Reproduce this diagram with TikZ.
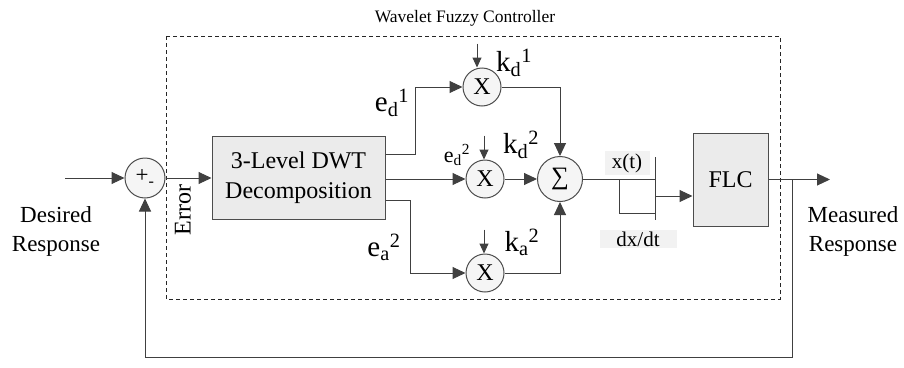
\documentclass[tikz,border=0pt]{standalone}
\usepackage{fontspec}
\setmainfont{Liberation Serif}
\usetikzlibrary{arrows.meta,positioning,calc}

\tikzset{
  wire/.style={draw=black!75, line width=1pt},
  arr/.style={wire, -{Triangle[length=13pt,width=12pt]}},
  karr/.style={wire, -{Triangle[length=10pt,width=9pt]}},
  blockbox/.style={draw=black!70, fill=black!8, line width=1pt, align=center, font=\fontsize{24}{30}\selectfont},
  mulnode/.style={circle, draw=black!70, fill=black!4, line width=1pt, minimum size=38pt, inner sep=0pt, font=\fontsize{24}{24}\selectfont},
  biglabel/.style={inner sep=0pt, font=\fontsize{29}{29}\selectfont},
  midlabel/.style={inner sep=0pt, font=\fontsize{22}{22}\selectfont},
  tag/.style={fill=black!5, inner sep=2pt, font=\fontsize{21}{21}\selectfont},
  sidetext/.style={align=center, font=\fontsize{23}{29}\selectfont}
}

\begin{document}
\begin{tikzpicture}[x=1pt, y=-1pt, >=Stealth]
\useasboundingbox (0,0) rectangle (904,367);

% Controller frame
\node[font=\fontsize{17.5}{17.5}\selectfont] (title) at (465,18) {Wavelet Fuzzy Controller};
\draw[black!85, line width=0.8pt, dash pattern=on 4pt off 3pt] (166,36) rectangle (780,299);

% Blocks
\node[mulnode, minimum size=40pt, font=\fontsize{23}{23}\selectfont] (sum) at (145,178) {+\textsubscript{-}};
\node[blockbox, minimum width=173pt, minimum height=83pt] (dwt) at (298.5,178) {3-Level DWT\\Decomposition};
\node[mulnode] (m1) at (482,87) {X};
\node[mulnode] (m2) at (485,179) {X};
\node[mulnode] (m3) at (485,273) {X};
\node[mulnode, minimum size=45pt, font=\fontsize{25}{25}\selectfont] (sig) at (560,179) {∑};
\node[blockbox, minimum width=75pt, minimum height=93pt] (flc) at (730.5,179.5) {FLC};

% Outside texts
\node[sidetext] (desired) at (56,231) {Desired\\Response};
\node[sidetext] (measured) at (853,231) {Measured\\Response};
\node[rotate=90, font=\fontsize{24}{24}\selectfont] (err) at (183,210) {Error};

% Helper points
\coordinate (in) at (65,178);
\coordinate (out) at (830,179.5);
\coordinate (fbx) at (792,357);
\coordinate (bend1) at (415,154);
\coordinate (bend3) at (410,200);
\coordinate (bar) at (655,179);
\coordinate (bartop) at (655,157);
\coordinate (barbot) at (655,220);
\coordinate (split) at (619,179);
\coordinate (dxbar) at (655,213);
\coordinate (dxin) at (655,196);

% Main path
\draw[arr] (in) -- (sum);
\draw[arr] (sum) -- (dwt);
\draw[arr] (dwt.east |- m2) -- (m2);
\draw[arr] (m2) -- (sig);
\draw[arr] (dwt.east |- bend1) -- (bend1) |- (m1);
\draw[arr] (dwt.east |- bend3) -- (bend3) |- (m3);
\draw[arr] (m1) -| (sig);
\draw[arr] (m3) -| (sig);

% Gains
\draw[karr] ([xshift=-5pt,yshift=24pt]m1.north) -- ([xshift=-5pt]m1.north);
\draw[karr] ([xshift=-1pt,yshift=24pt]m2.north) -- ([xshift=-1pt]m2.north);
\draw[karr] ([xshift=-1pt,yshift=24pt]m3.north) -- ([xshift=-1pt]m3.north);

% x(t) and dx/dt
\draw[wire] (sig) -- (bar);
\draw[wire] (bartop) -- (barbot);
\draw[wire] (split) |- (dxbar);
\draw[arr] (dxin) -- (flc.west |- dxin);
\node[tag, minimum width=45pt] (xt) at (627,163) {x(t)};
\node[tag, minimum width=77pt] (dxdt) at (638,239) {dx/dt};

% Output and feedback
\draw[arr] (flc) -- (out);
\draw[arr] (fbx |- flc.east) -- (fbx) -| (sum);

% Labels
\node[biglabel] (ed1) at (392,103) {e\textsubscript{d}\textsuperscript{1}};
\node[biglabel] (kd1) at (514,63) {k\textsubscript{d}\textsuperscript{1}};
\node[midlabel] (ed2) at (457,155) {e\textsubscript{d}\textsuperscript{2}};
\node[biglabel] (kd2) at (521,145) {k\textsubscript{d}\textsuperscript{2}};
\node[biglabel] (ka2) at (522,242) {k\textsubscript{a}\textsuperscript{2}};
\node[biglabel] (ea2) at (384,247) {e\textsubscript{a}\textsuperscript{2}};

\end{tikzpicture}
\end{document}
